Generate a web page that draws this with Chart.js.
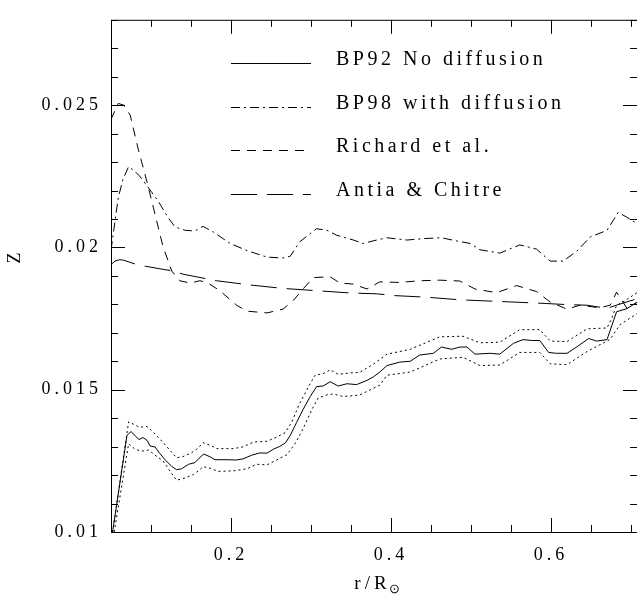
<!DOCTYPE html>
<html>
<head>
<meta charset="utf-8">
<script src="https://cdn.jsdelivr.net/npm/chart.js@4.4.1/dist/chart.umd.min.js"></script>
<style>
  html, body { margin: 0; padding: 0; background: #fff; }
  #wrap { width: 637px; height: 596px; }
</style>
</head>
<body>
<div id="wrap"><canvas id="zChart"></canvas></div>
<script>
// Z profile versus r/R_sun

var seriesNames = ['BP92 No diffusion', 'BP98 with diffusion', 'Richard et al.', 'Antia & Chitre'];

// BP92, no diffusion (solid) and its upper / lower bounds (dotted)
var r92 = [0.052,0.070,0.075,0.080,0.085,0.090,0.095,0.099,0.105,0.111,0.118,0.126,0.132,0.138,0.147,0.155,0.160,0.166,0.174,0.180,
  0.195,0.207,0.215,0.226,0.236,0.245,0.253,0.261,0.268,0.274,0.282,0.290,0.299,0.307,0.315,0.324,0.334,0.345,0.357,0.370,
  0.378,0.386,0.395,0.411,0.424,0.436,0.453,0.463,0.476,0.486,0.495,0.505,0.524,0.536,0.553,0.565,0.576,0.586,0.597,0.607,
  0.620,0.632,0.647,0.657,0.670,0.682,0.695,0.708];
var z92 = [0.0100,0.0134,0.01353,0.01339,0.01325,0.01332,0.01322,0.01302,0.01299,0.01276,0.01253,0.0123,0.01219,0.01222,0.01238,0.01244,0.01259,0.01274,0.01264,0.01254,
  0.01254,0.01253,0.01257,0.0127,0.01278,0.01277,0.01291,0.01301,0.01313,0.01339,0.01385,0.0143,0.01476,0.01511,0.01513,0.01528,0.01513,0.01521,0.01518,0.01533,
  0.01545,0.01562,0.01585,0.01597,0.0160,0.01622,0.01628,0.0165,0.01642,0.0165,0.0165,0.01625,0.01628,0.01625,0.01663,0.01676,0.01673,0.01673,0.01631,0.01628,
  0.01628,0.0165,0.0168,0.01671,0.01676,0.01774,0.01785,0.01808];

var rHi = [0.052,0.072,0.078,0.086,0.095,0.103,0.111,0.120,0.132,0.140,0.151,0.159,0.165,0.174,0.182,0.203,0.215,0.228,0.245,0.257,
  0.268,0.276,0.286,0.297,0.305,0.315,0.324,0.334,0.349,0.361,0.378,0.395,0.424,0.461,0.490,0.511,0.536,0.561,0.586,0.599,
  0.620,0.645,0.670,0.676,0.682,0.690,0.708];
var zHi = [0.0100,0.01387,0.01379,0.01368,0.01371,0.0135,0.01327,0.01299,0.01261,0.01265,0.01279,0.01295,0.01314,0.01305,0.01293,0.01293,0.01299,0.01316,0.01319,0.01333,
  0.0135,0.01387,0.01453,0.01511,0.01551,0.01556,0.0157,0.01554,0.01559,0.01561,0.0159,0.01625,0.01642,0.01686,0.01688,0.01665,0.01667,0.01711,0.01711,0.01671,
  0.01669,0.01714,0.01717,0.01751,0.01797,0.01808,0.01842];

var rLo = [0.054,0.072,0.080,0.088,0.097,0.105,0.115,0.124,0.132,0.143,0.153,0.161,0.165,0.174,0.184,0.203,0.220,0.232,0.245,0.257,
  0.270,0.280,0.290,0.301,0.309,0.320,0.328,0.340,0.353,0.361,0.370,0.386,0.395,0.424,0.461,0.490,0.511,0.536,0.561,0.586,
  0.599,0.620,0.645,0.674,0.686,0.708];
var zLo = [0.0100,0.0131,0.01291,0.01284,0.01288,0.0127,0.0125,0.01213,0.01182,0.0119,0.01202,0.01219,0.0123,0.01224,0.01213,0.01215,0.01222,0.01238,0.01236,0.01253,
  0.01272,0.0131,0.01362,0.0143,0.01471,0.01482,0.01485,0.01476,0.01479,0.01482,0.01494,0.01516,0.01551,0.01562,0.01608,0.01614,0.01585,0.01587,0.01631,0.01631,
  0.01591,0.01588,0.01634,0.01677,0.01728,0.01768];

// BP98 with diffusion (dot-dash)
var r98 = [0.050,0.059,0.065,0.072,0.080,0.086,0.097,0.109,0.121,0.130,0.143,0.155,0.165,0.178,0.199,0.220,0.245,0.265,0.274,
  0.286,0.307,0.320,0.332,0.353,0.365,0.382,0.395,0.420,0.440,0.463,0.482,0.499,0.511,0.536,0.561,0.582,0.599,0.615,0.632,
  0.649,0.670,0.684,0.695,0.708];
var z98 = [0.0199,0.02174,0.0224,0.02284,0.02267,0.0225,0.02209,0.02163,0.02106,0.02072,0.0206,0.02058,0.02074,0.02054,0.02014,0.01989,0.01966,0.01963,0.01969,
  0.0202,0.02066,0.0206,0.02043,0.02026,0.02014,0.02026,0.02034,0.02026,0.02031,0.02034,0.02023,0.02014,0.01992,0.0198,0.02009,0.01994,0.01952,0.01952,0.01986,
  0.02037,0.0206,0.02123,0.02106,0.02083];

// Richard et al. (short dashes)
var rRich = [0.050,0.059,0.066,0.074,0.084,0.095,0.105,0.115,0.126,0.136,0.149,0.161,0.170,0.186,0.207,0.220,0.245,0.265,0.278,
  0.290,0.303,0.324,0.336,0.353,0.370,0.386,0.411,0.436,0.461,0.486,0.505,0.532,0.557,0.582,0.599,0.620,0.636,0.661,0.674,
  0.682,0.695,0.708];
var zRich = [0.0245,0.02506,0.0250,0.02465,0.02346,0.0223,0.02117,0.02003,0.01917,0.01883,0.01875,0.01883,0.01877,0.01848,0.01797,0.01776,0.0177,0.01783,0.01814,
  0.01854,0.01894,0.01897,0.01875,0.01871,0.01854,0.01879,0.01877,0.01883,0.01885,0.01882,0.01854,0.01841,0.01866,0.01845,0.01808,0.01783,0.01797,0.01788,0.01797,
  0.01843,0.01786,0.01808];

// Antia & Chitre (long dashes)
var rAC = [0.050,0.055,0.061,0.066,0.082,0.093,0.111,0.128,0.140,0.182,0.224,0.265,0.307,0.349,0.382,0.403,0.445,0.486,0.528,0.570,0.594,
  0.620,0.645,0.670,0.685,0.708];
var zAC = [0.0194,0.01952,0.01957,0.01955,0.0194,0.01934,0.01925,0.01917,0.01906,0.01883,0.01868,0.01856,0.01848,0.0184,0.01837,0.01831,0.01825,0.01816,0.01811,0.01806,0.01803,
  0.01799,0.01797,0.01786,0.0180,0.0182];

// axes
var xTickLabels = [0.2, 0.4, 0.6];
var yTickLabels = [0.01, 0.015, 0.02, 0.025];
var xMin = 0.05, xMax = 0.7075;
var yMin = 0.01, yMax = 0.028;

var serif = "'Liberation Serif', 'Times New Roman', serif";

function pts(xs, ys) {
  var out = [];
  for (var i = 0; i < Math.min(xs.length, ys.length); i++) out.push({x: xs[i], y: ys[i]});
  return out;
}

function line(label, xs, ys, dash, inLegend) {
  return {
    label: label,
    data: pts(xs, ys),
    borderColor: '#000',
    borderWidth: 1,
    borderDash: dash,
    pointRadius: 0,
    tension: 0,
    fill: false,
    inLegend: inLegend
  };
}

// frame with inward ticks, legend and axis titles (PGPLOT style)
var pgPlot = {
  id: 'pgPlot',
  beforeDraw: function(chart) {
    chart.ctx.letterSpacing = '4px';
  },
  afterDraw: function(chart) {
    var ctx = chart.ctx, a = chart.chartArea;
    var xs = chart.scales.x, ys = chart.scales.y;
    ctx.save();
    ctx.strokeStyle = '#000';
    ctx.fillStyle = '#000';
    ctx.lineWidth = 1;
    ctx.setLineDash([]);
    ctx.strokeRect(a.left + 0.5, a.top + 0.5, a.right - a.left, a.bottom - a.top);

    ctx.beginPath();
    for (var k = 1; k <= 15; k++) {
      var px = Math.round(xs.getPixelForValue(k * 5 / 100)) + 0.5;
      if (px < a.left || px > a.right + 1) continue;
      var len = (k % 4 === 0) ? 14 : 7;
      ctx.moveTo(px, a.bottom); ctx.lineTo(px, a.bottom - len);
      ctx.moveTo(px, a.top); ctx.lineTo(px, a.top + len);
    }
    for (var j = 10; j <= 28; j++) {
      var py = Math.round(ys.getPixelForValue(j / 1000)) + 0.5;
      var ylen = (j % 5 === 0) ? 14 : 7;
      ctx.moveTo(a.left, py); ctx.lineTo(a.left + ylen, py);
      ctx.moveTo(a.right, py); ctx.lineTo(a.right - ylen, py);
    }
    ctx.stroke();

    // legend
    var row = 0;
    ctx.font = '20px ' + serif;
    ctx.letterSpacing = '3.5px';
    ctx.textAlign = 'left';
    ctx.textBaseline = 'alphabetic';
    chart.data.datasets.forEach(function(ds) {
      if (!ds.inLegend) return;
      var ly = Math.round(a.top + 43.5 + row * 43.4) + 0.5;
      ctx.setLineDash(ds.borderDash || []);
      ctx.beginPath();
      ctx.moveTo(a.left + 120, ly);
      ctx.lineTo(a.left + 200, ly);
      ctx.stroke();
      ctx.setLineDash([]);
      ctx.fillText(ds.label, a.left + 225, ly + 1.5);
      row++;
    });

    // axis titles
    ctx.font = '19px ' + serif;
    ctx.letterSpacing = '4px';
    var main = 'r/R', sub = '\u2299';
    var w1 = ctx.measureText(main).width;
    ctx.font = '13px ' + serif;
    ctx.letterSpacing = '0px';
    var w2 = ctx.measureText(sub).width;
    var cx = (a.left + a.right) / 2 + 4;
    var x0 = cx - (w1 + w2) / 2;
    ctx.font = '19px ' + serif;
    ctx.letterSpacing = '4px';
    ctx.fillText(main, x0, 589);
    ctx.font = '13px ' + serif;
    ctx.letterSpacing = '0px';
    ctx.fillText(sub, x0 + w1 - 2, 593);

    ctx.translate(15, 258);
    ctx.rotate(-Math.PI / 2);
    ctx.font = '18px ' + serif;
    ctx.textAlign = 'center';
    ctx.textBaseline = 'middle';
    ctx.fillText('Z', 0, 0);
    ctx.restore();
    ctx.letterSpacing = '0px';
  }
};

var tickFont = { family: serif, size: 18 };

new Chart(document.getElementById('zChart').getContext('2d'), {
  type: 'line',
  data: {
    datasets: [
      line(seriesNames[0], r92, z92, [], true),
      line(seriesNames[1], r98, z98, [9, 4, 2, 4], true),
      line(seriesNames[2], rRich, zRich, [9, 7], true),
      line(seriesNames[3], rAC, zAC, [26, 10], true),
      line('BP92 upper', rHi, zHi, [2, 3], false),
      line('BP92 lower', rLo, zLo, [2, 3], false)
    ]
  },
  options: {
    responsive: true,
    maintainAspectRatio: false,
    animation: false,
    layout: { padding: { top: 8, right: 0, left: 0, bottom: 0 } },
    plugins: {
      legend: { display: false },
      tooltip: { enabled: false }
    },
    scales: {
      x: {
        type: 'linear',
        min: xMin,
        max: xMax,
        afterBuildTicks: function(s) { s.ticks = xTickLabels.map(function(v) { return {value: v}; }); },
        afterFit: function(s) { s.height = 64; },
        grid: { display: false, drawTicks: false },
        border: { display: false },
        ticks: {
          padding: 12,
          color: '#000',
          font: tickFont,
          maxRotation: 0,
          callback: function(v) { return String(+v.toFixed(3)); }
        }
      },
      y: {
        min: yMin,
        max: yMax,
        afterBuildTicks: function(s) { s.ticks = yTickLabels.map(function(v) { return {value: v}; }); },
        afterFit: function(s) { s.width = 111; },
        grid: { display: false, drawTicks: false },
        border: { display: false },
        ticks: {
          padding: 9,
          color: '#000',
          font: tickFont,
          callback: function(v) { return String(+v.toFixed(3)); }
        }
      }
    }
  },
  plugins: [pgPlot]
});
</script>
</body>
</html>
